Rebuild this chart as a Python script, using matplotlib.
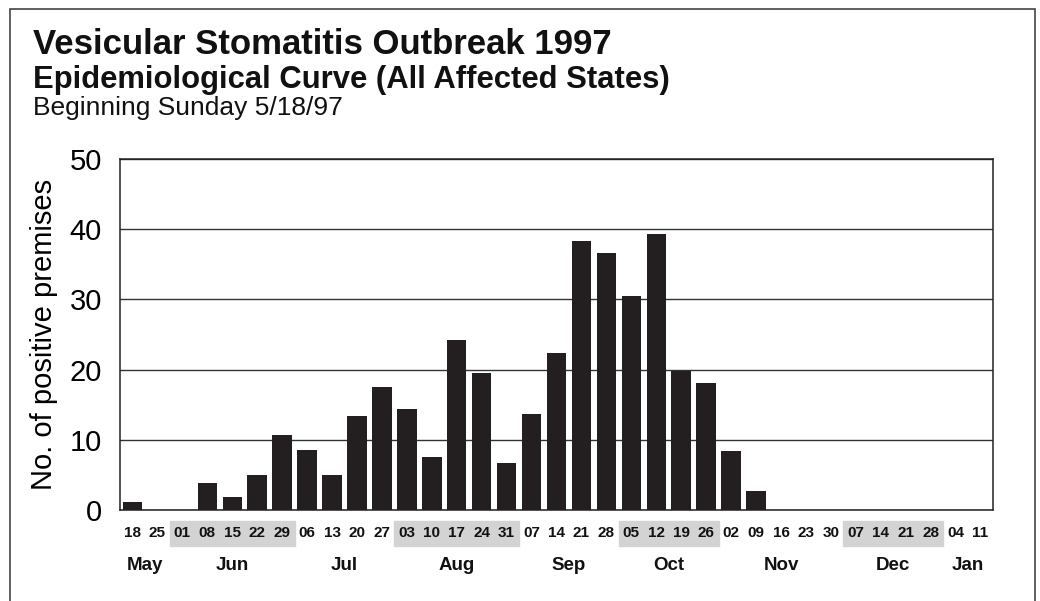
import matplotlib
matplotlib.use("Agg")
import matplotlib.pyplot as plt
from matplotlib.patches import Rectangle

plt.rcParams['font.family'] = ['Liberation Sans', 'DejaVu Sans']

# semanas desde el domingo 18/5/97
days = ["18", "25", "01", "08", "15", "22", "29", "06", "13", "20", "27",
        "03", "10", "17", "24", "31", "07", "14", "21", "28", "05", "12",
        "19", "26", "02", "09", "16", "23", "30", "07", "14", "21", "28",
        "04", "11"]
months = ["May", "May", "Jun", "Jun", "Jun", "Jun", "Jun", "Jul", "Jul",
          "Jul", "Jul", "Aug", "Aug", "Aug", "Aug", "Aug", "Sep", "Sep",
          "Sep", "Sep", "Oct", "Oct", "Oct", "Oct", "Nov", "Nov", "Nov",
          "Nov", "Nov", "Dec", "Dec", "Dec", "Dec", "Jan", "Jan"]
cases = [1.2, 0, 0, 3.9, 1.9, 5.0, 10.7, 8.5, 5.0, 13.4, 17.5, 14.4, 7.5,
         24.2, 19.5, 6.7, 13.7, 22.4, 38.3, 36.6, 30.5, 39.3, 19.8, 18.1,
         8.4, 2.7, 0, 0, 0, 0, 0, 0, 0, 0, 0]
shaded_months = ["Jun", "Aug", "Oct", "Dec"]

x = list(range(len(days)))

fig = plt.figure(figsize=(10.4, 6.01), dpi=100)
ax = fig.add_axes([120/1040, 1 - 510/601, 873/1040, 351/601])

ax.bar(x, cases, width=0.78, color='#231f20', zorder=3)
ax.set_xlim(-0.5, len(days) - 0.5)
ax.set_ylim(0, 50)
ax.set_yticks([0, 10, 20, 30, 40, 50])
ax.tick_params(axis='y', length=0, pad=13, labelsize=21)
ax.set_xticks([])
ax.yaxis.grid(True, color='#333333', linewidth=1.0, zorder=1)
for s in ax.spines.values():
    s.set_color('#222222')
    s.set_linewidth(1.1)
ax.set_ylabel("No. of positive premises", fontsize=21)
ax.yaxis.set_label_coords(-0.071, 0.5)

trans = ax.get_xaxis_transform()

# bandas grises y etiquetas de meses
order = []
for m in months:
    if m not in order:
        order.append(m)
for m in order:
    idx = [i for i, mm in enumerate(months) if mm == m]
    if m in shaded_months:
        ax.add_patch(Rectangle((idx[0] - 0.5, -0.102), len(idx), 0.071,
                               transform=trans, color='#d3d3d3',
                               clip_on=False, zorder=0))
    ax.text(sum(idx) / len(idx), -0.157, m, transform=trans, ha='center',
            va='center', fontsize=13.5, fontweight='bold', color='#111111')

for i, d in enumerate(days):
    ax.text(i, -0.066, d, transform=trans, ha='center', va='center',
            fontsize=11, fontweight='bold', color='#111111')

# titulos
fig.text(33/1040, 1 - 54/601, "Vesicular Stomatitis Outbreak 1997",
         fontsize=25, fontweight='bold', va='baseline', color='#111111')
fig.text(33/1040, 1 - 88/601, "Epidemiological Curve (All Affected States)",
         fontsize=22.3, fontweight='bold', va='baseline', color='#111111')
fig.text(33/1040, 1 - 115/601, "Beginning Sunday 5/18/97",
         fontsize=19, va='baseline', color='#111111')

# marco exterior
fig.patches.append(Rectangle((10/1040, -0.05), 1025/1040, 1.05 - 9/601,
                             transform=fig.transFigure, fill=False,
                             edgecolor='#444444', linewidth=1.2))

plt.savefig("out.png", dpi=100)
